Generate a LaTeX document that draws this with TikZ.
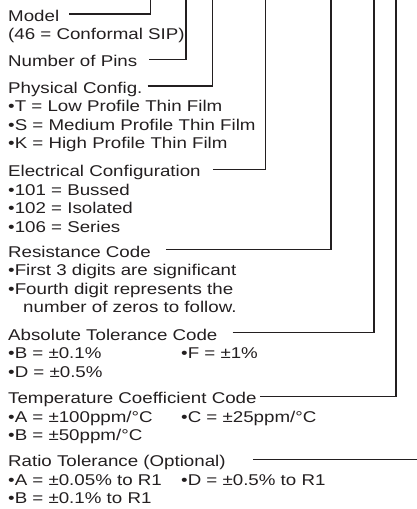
\documentclass[tikz,border=0pt]{standalone}
\usepackage{fontspec}
\setmainfont{Liberation Sans}[FakeStretch=1.2]
\usepackage{xcolor}
\definecolor{inkdark}{HTML}{231F20}
\usetikzlibrary{positioning}

\begin{document}
\begin{tikzpicture}[
  x=1pt, y=-1pt,
  font=\fontsize{15.6}{18.5}\selectfont,
  txt/.style={anchor=base west, inner sep=0pt, text=inkdark},
  lead/.style={draw=inkdark, line width=1.1pt},
]
\useasboundingbox (0,0) rectangle (417,509);

% === TOP ENDS OF THE LEADS (one per code field) ===
\coordinate (top_model) at (150.7,0);
\coordinate (top_pins)  at (186,0);
\coordinate (top_phys)  at (212.7,0);
\coordinate (top_elec)  at (265.7,0);
\coordinate (top_res)   at (331,0);
\coordinate (top_abs)   at (374,0);
\coordinate (top_tc)    at (396,0);
\coordinate (end_ratio) at (417,459.5);

% --- MODEL ---
\node[txt] (model)   at (8,21.4) {Model};
\node[txt] (model_a) at (8,39.9) {(46 = Conformal SIP)};
\draw[lead] ([xshift=10pt,yshift=7.4pt]model.base east) -| (top_model);

% --- NUMBER OF PINS ---
\node[txt] (pins) at (8,66.7) {Number of Pins};
\draw[lead] ([xshift=12pt,yshift=7.4pt]pins.base east) -| (top_pins);

% --- PHYSICAL CONFIG ---
\node[txt] (phys)   at (8,93.4)  {Physical Config.};
\node[txt] (phys_t) at (8,111.9) {•T = Low Profile Thin Film};
\node[txt] (phys_s) at (8,130.4) {•S = Medium Profile Thin Film};
\node[txt] (phys_k) at (8,148.9) {•K = High Profile Thin Film};
\draw[lead] ([xshift=5pt,yshift=7.4pt]phys.base east) -| (top_phys);

% --- ELECTRICAL CONFIGURATION ---
\node[txt] (elec)     at (8,176.7) {Electrical Configuration};
\node[txt] (elec_bus) at (8,195.2) {•101 = Bussed};
\node[txt] (elec_iso) at (8,213.7) {•102 = Isolated};
\node[txt] (elec_ser) at (8,232.2) {•106 = Series};
\draw[lead] ([xshift=12pt,yshift=7.4pt]elec.base east) -| (top_elec);

% --- RESISTANCE CODE ---
\node[txt] (res)   at (8,257)   {Resistance Code};
\node[txt] (res_a) at (8,275.5) {•First 3 digits are significant};
\node[txt] (res_b) at (8,294)   {•Fourth digit represents the};
\node[txt] (res_c) at (23,312.5) {number of zeros to follow.};
\draw[lead] ([xshift=15pt,yshift=7.4pt]res.base east) -| (top_res);

% --- ABSOLUTE TOLERANCE ---
\node[txt] (abs)   at (8,340.1)   {Absolute Tolerance Code};
\node[txt] (abs_b) at (8,358.6)   {•B = ±0.1\%};
\node[txt] (abs_f) at (181,358.6) {•F = ±1\%};
\node[txt] (abs_d) at (8,377.1)   {•D = ±0.5\%};
\draw[lead] ([xshift=15pt,yshift=7.4pt]abs.base east) -| (top_abs);

% --- TEMPERATURE COEFFICIENT ---
\node[txt] (tc)   at (8,403.6)   {Temperature Coefficient Code};
\node[txt] (tc_a) at (8,422.1)   {•A = ±100ppm/°C};
\node[txt] (tc_c) at (181,422.1) {•C = ±25ppm/°C};
\node[txt] (tc_b) at (8,440.6)   {•B = ±50ppm/°C};
\draw[lead] ([xshift=3pt,yshift=7.4pt]tc.base east) -| (top_tc);

% --- RATIO TOLERANCE ---
\node[txt] (ratio)   at (8,466.9)   {Ratio Tolerance (Optional)};
\node[txt] (ratio_a) at (8,485.4)   {•A = ±0.05\% to R1};
\node[txt] (ratio_d) at (181,485.4) {•D = ±0.5\% to R1};
\node[txt] (ratio_b) at (8,503.9)   {•B = ±0.1\% to R1};
\draw[lead] ([xshift=27pt,yshift=7.4pt]ratio.base east) -- (end_ratio);

\end{tikzpicture}
\end{document}
